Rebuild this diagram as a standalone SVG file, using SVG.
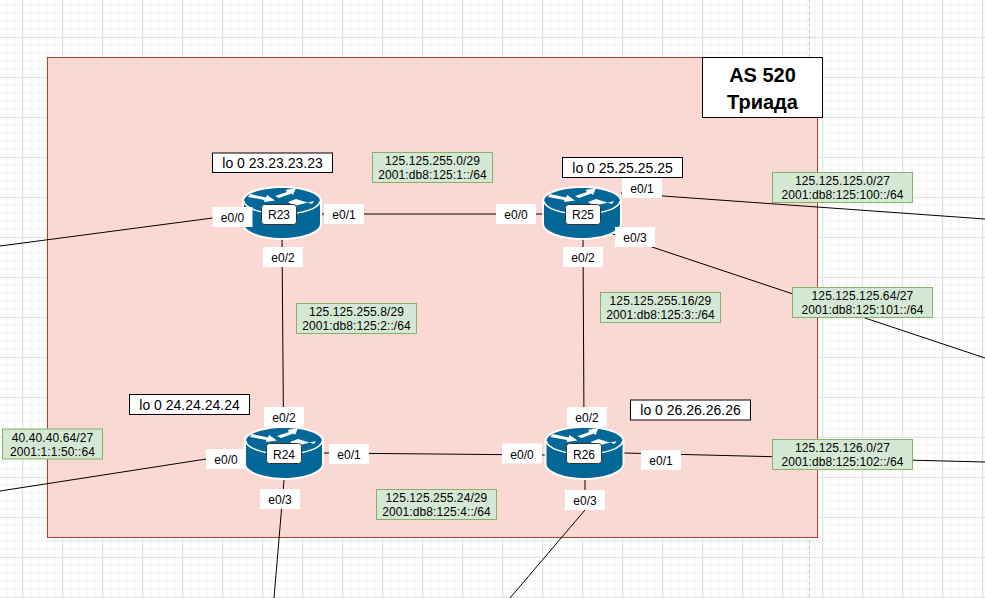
<svg xmlns="http://www.w3.org/2000/svg" width="985" height="598" viewBox="0 0 985 598">
<style>
text{font-family:"Liberation Sans",Arial,sans-serif;fill:#000;text-anchor:middle}
.e{font-size:12px}.g{font-size:12px;letter-spacing:.1px}.lo{font-size:14px}
.eb{fill:#fff}
.gb{fill:#d5e8d4;stroke:#82b366}
.lb{fill:#fff;stroke:#000}
.c{fill:none;stroke:#000;stroke-width:1}
.rl{fill:#fff;stroke:#333;stroke-width:1}
</style>
<defs>
<pattern id="minor" width="8" height="8" patternUnits="userSpaceOnUse" x="-1.5" y="-3.5"><path d="M8 .5H.5V8" fill="none" stroke="#f0f0f0" stroke-width="1"/></pattern>
<pattern id="major" width="40" height="40" patternUnits="userSpaceOnUse" x="22" y="37"><path d="M40 .5H.5V40" fill="none" stroke="#e2e2e2" stroke-width="1"/></pattern>
<g id="router">
<path d="M-40 -12C-40 -21-22 -27 0 -27S40 -21 40 -12V11C40 20 22 27 0 27S-40 20-40 11Z" fill="#fff" fill-opacity=".85"/>
<path d="M-38 -12C-38 -19-21 -25 0 -25S38 -19 38 -12V11C38 18 21 25 0 25S-38 18-38 11Z" fill="#036897"/>
<path d="M-38 -12C-38 -5-21 1 0 1S38 -5 38 -12" fill="none" stroke="#fff" stroke-width="1.5"/>
<path d="M-32 -19L-16 -15.500L-15 -18L-7 -12.500L-18 -11L-17.500 -13L-34 -16ZM-7 -17L5 -21L3.500 -23L14 -25L11 -18L9.500 -19.500L-3 -15ZM6 -11L14 -14L30 -9L32 -12L12 -7Z" fill="#fff"/>
</g>
</defs>
<rect width="985" height="598" fill="#fff"/>
<rect width="985" height="598" fill="url(#minor)"/>
<rect width="985" height="598" fill="url(#major)"/>
<path d="M809.500 0V598" stroke="#c0c0c0" stroke-dasharray="3 3" fill="none"/>
<rect id="as-area" x="47.500" y="57.500" width="770" height="480" fill="#fad9d5" stroke="#ae4132"/>
<g id="connectors">
<path class="c" d="M0 246L243 214"/>
<path class="c" d="M322 214H545"/>
<path class="c" d="M282 239L283.500 427"/>
<path class="c" d="M583 239L584 427"/>
<path class="c" d="M323 453L546 455"/>
<path class="c" d="M621 193L985 219"/>
<path class="c" d="M610 233L985 358"/>
<path class="c" d="M0 491L245 453"/>
<path class="c" d="M284 480L274 598"/>
<path class="c" d="M585 480V510L510 598"/>
<path class="c" d="M624 453L985 462"/>
</g>
<g id="R23"><use href="#router" x="282" y="213"/><rect class="rl" x="261.500" y="204.500" width="35" height="20" rx="3"/><text class="e" x="279" y="219">R23</text></g>
<g id="R25"><use href="#router" x="582" y="213"/><rect class="rl" x="565.500" y="204.500" width="35" height="20" rx="3"/><text class="e" x="583" y="219">R25</text></g>
<g id="R24"><use href="#router" x="284" y="453"/><rect class="rl" x="266.500" y="443.500" width="35" height="20" rx="3"/><text class="e" x="284" y="458.500">R24</text></g>
<g id="R26"><use href="#router" x="584.500" y="453"/><rect class="rl" x="566.500" y="443.500" width="35" height="20" rx="3"/><text class="e" x="584" y="458.500">R26</text></g>
<g id="port-labels">
<rect class="eb" x="212.500" y="207" width="40" height="20"/><text class="e" x="232.500" y="222">e0/0</text>
<rect class="eb" x="324" y="204" width="40" height="20"/><text class="e" x="344" y="219">e0/1</text>
<rect class="eb" x="263" y="247" width="40" height="20"/><text class="e" x="283" y="262">e0/2</text>
<rect class="eb" x="496" y="204" width="40" height="20"/><text class="e" x="516" y="219">e0/0</text>
<rect class="eb" x="622" y="178" width="40" height="20"/><text class="e" x="642" y="193">e0/1</text>
<rect class="eb" x="615" y="227" width="40" height="20"/><text class="e" x="635" y="242">e0/3</text>
<rect class="eb" x="563" y="247" width="40" height="20"/><text class="e" x="583" y="262">e0/2</text>
<rect class="eb" x="264" y="407" width="40" height="20"/><text class="e" x="284" y="421.500">e0/2</text>
<rect class="eb" x="206" y="449" width="40" height="20"/><text class="e" x="226" y="464">e0/0</text>
<rect class="eb" x="329" y="444" width="40" height="20"/><text class="e" x="349" y="459">e0/1</text>
<rect class="eb" x="260" y="489" width="40" height="20"/><text class="e" x="280" y="504">e0/3</text>
<rect class="eb" x="502" y="443.500" width="40" height="20"/><text class="e" x="522" y="458.500">e0/0</text>
<rect class="eb" x="567" y="407" width="40" height="20"/><text class="e" x="587" y="421.500">e0/2</text>
<rect class="eb" x="641" y="450" width="40" height="20"/><text class="e" x="661" y="464.500">e0/1</text>
<rect class="eb" x="565" y="490" width="40" height="20"/><text class="e" x="585" y="504.500">e0/3</text>
</g>
<g id="loopbacks">
<rect class="lb" x="212.500" y="153" width="120" height="19.500"/><text class="lo" x="272.500" y="168">lo 0 23.23.23.23</text>
<rect class="lb" x="562.500" y="157.500" width="120" height="20"/><text class="lo" x="622.500" y="172.500">lo 0 25.25.25.25</text>
<rect class="lb" x="129.500" y="394.500" width="120" height="20"/><text class="lo" x="189.500" y="409.500">lo 0 24.24.24.24</text>
<rect class="lb" x="630.500" y="400" width="120" height="20"/><text class="lo" x="690.500" y="415">lo 0 26.26.26.26</text>
</g>
<g id="subnets">
<rect class="gb" x="372.500" y="152.500" width="120" height="30"/><text class="g" x="432.500" y="165">125.125.255.0/29</text><text class="g" x="432.500" y="179">2001:db8:125:1::/64</text>
<rect class="gb" x="296.500" y="303.500" width="120" height="30"/><text class="g" x="356.500" y="316">125.125.255.8/29</text><text class="g" x="356.500" y="330">2001:db8:125:2::/64</text>
<rect class="gb" x="600.500" y="292.500" width="120" height="30"/><text class="g" x="660.500" y="305">125.125.255.16/29</text><text class="g" x="660.500" y="319">2001:db8:125:3::/64</text>
<rect class="gb" x="376.500" y="489.500" width="120" height="30"/><text class="g" x="436.500" y="502">125.125.255.24/29</text><text class="g" x="436.500" y="516">2001:db8:125:4::/64</text>
<rect class="gb" x="772.500" y="172.500" width="140" height="30"/><text class="g" x="842.500" y="185">125.125.125.0/27</text><text class="g" x="842.500" y="199">2001:db8:125:100::/64</text>
<rect class="gb" x="792.500" y="287.500" width="140" height="30"/><text class="g" x="862.500" y="300">125.125.125.64/27</text><text class="g" x="862.500" y="314">2001:db8:125:101::/64</text>
<rect class="gb" x="772.500" y="439.500" width="140" height="30"/><text class="g" x="842.500" y="452">125.125.126.0/27</text><text class="g" x="842.500" y="466">2001:db8:125:102::/64</text>
<rect class="gb" x="2.500" y="429" width="100" height="30"/><text class="g" x="52.500" y="442">40.40.40.64/27</text><text class="g" x="52.500" y="456">2001:1:1:50::64</text>
</g>
<g id="as-label">
<rect class="lb" x="702.500" y="57.500" width="120" height="60"/>
<text x="762.500" y="82" font-size="20" font-weight="bold">AS 520</text>
<text x="762.500" y="109" font-size="20" font-weight="bold">Триада</text>
</g>
</svg>
